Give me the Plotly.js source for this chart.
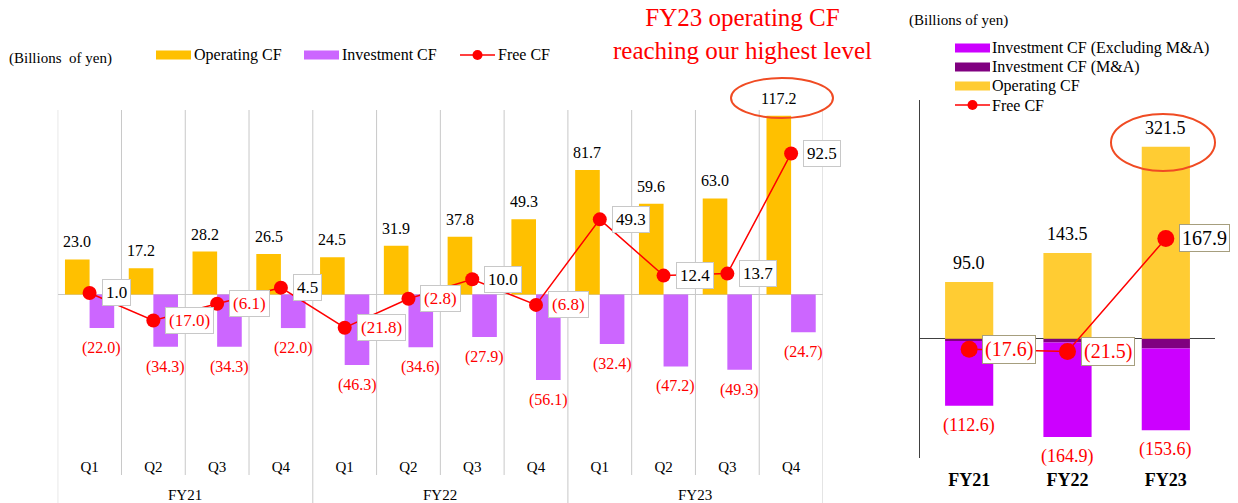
<!DOCTYPE html>
<html>
<head>
<meta charset="utf-8">
<script src="https://cdn.plot.ly/plotly-3.0.1.min.js"></script>
<style>
  html, body { margin: 0; padding: 0; background: #ffffff; }
  #chart { width: 1238px; height: 503px; }
</style>
</head>
<body>
<div id="chart"></div>
<script>
// ---------- Data (billions of yen) ----------
const quarters = ['Q1', 'Q2', 'Q3', 'Q4', 'Q1', 'Q2', 'Q3', 'Q4', 'Q1', 'Q2', 'Q3', 'Q4'];
const fiscalYears = ['FY21', 'FY22', 'FY23'];
const operatingCF = [23.0, 17.2, 28.2, 26.5, 24.5, 31.9, 37.8, 49.3, 81.7, 59.6, 63.0, 117.2];
const investmentCF = [-22.0, -34.3, -34.3, -22.0, -46.3, -34.6, -27.9, -56.1, -32.4, -47.2, -49.3, -24.7];
const freeCF = [1.0, -17.0, -6.1, 4.5, -21.8, -2.8, 10.0, -6.8, 49.3, 12.4, 13.7, 92.5];

const annualYears = ['FY21', 'FY22', 'FY23'];
const annualOperatingCF = [95.0, 143.5, 321.5];
const annualInvestmentTotal = [-112.6, -164.9, -153.6];
const annualInvestmentMA = [-4.0, -6.5, -16.5];
const annualFreeCF = [-17.6, -21.5, 167.9];

const leftLegendNames = ['Operating CF', 'Investment CF', 'Free CF'];
const rightLegendNames = ['Investment CF (Excluding M&A)', 'Investment CF (M&A)', 'Operating CF', 'Free CF'];

// ---------- Helpers ----------
const W = 1238, H = 503;
const px = v => v / W;           // pixel x -> paper
const py = v => 1 - v / H;       // pixel y -> paper
const fmt = v => v < 0 ? '(' + Math.abs(v).toFixed(1) + ')' : v.toFixed(1);
const FONT = 'Liberation Serif, Times New Roman, serif';

const C_OP_Q = '#FFC000', C_INV_Q = '#CC66FF';
const C_EXCL = '#CC00FF', C_MA = '#800080', C_OP_Y = '#FFCC33', C_FREE = '#FF0000';

const qIdx = quarters.map((_, i) => i);
const annualExcl = annualInvestmentTotal.map((t, i) => +(t - annualInvestmentMA[i]).toFixed(1));

const BAR_W = 0.386;

const traces = [
  // ----- Left panel (quarterly) -----
  {
    type: 'bar', name: leftLegendNames[0], x: qIdx, y: operatingCF,
    xaxis: 'x', yaxis: 'y', showlegend: false,
    width: BAR_W, offset: -BAR_W, marker: { color: C_OP_Q }
  },
  {
    type: 'bar', name: leftLegendNames[1], x: qIdx, y: investmentCF,
    xaxis: 'x', yaxis: 'y', showlegend: false,
    width: BAR_W, offset: 0, marker: { color: C_INV_Q }
  },
  {
    type: 'scatter', mode: 'lines+markers', name: leftLegendNames[2], x: qIdx, y: freeCF,
    xaxis: 'x', yaxis: 'y', showlegend: false,
    line: { color: C_FREE, width: 1.5 },
    marker: { color: C_FREE, size: 14 }, cliponaxis: false
  },
  // ----- Right panel (annual) -----
  {
    type: 'bar', name: rightLegendNames[1], x: annualYears, y: annualInvestmentMA,
    xaxis: 'x2', yaxis: 'y2', showlegend: false,
    width: 0.49, marker: { color: C_MA }
  },
  {
    type: 'bar', name: rightLegendNames[0], x: annualYears, y: annualExcl,
    xaxis: 'x2', yaxis: 'y2', showlegend: false,
    width: 0.49, marker: { color: C_EXCL }
  },
  {
    type: 'bar', name: rightLegendNames[2], x: annualYears, y: annualOperatingCF,
    xaxis: 'x2', yaxis: 'y2', showlegend: false,
    width: 0.49, marker: { color: C_OP_Y }
  },
  {
    type: 'scatter', mode: 'lines+markers', name: rightLegendNames[3], x: annualYears, y: annualFreeCF,
    xaxis: 'x2', yaxis: 'y2', showlegend: false,
    line: { color: C_FREE, width: 1.5 },
    marker: { color: C_FREE, size: 17 }, cliponaxis: false
  }
];

// ---------- Shapes ----------
const shapes = [];
for (let i = 0; i <= quarters.length; i++) {
  const isYearEdge = i % 4 === 0;
  shapes.push({
    type: 'line', xref: 'x', yref: 'paper',
    x0: i - 0.5, x1: i - 0.5,
    y0: isYearEdge ? 0 : py(475), y1: py(110),
    line: { color: '#C8C8C8', width: 1 }, layer: 'below'
  });
}
// Highlight ellipses
shapes.push({
  type: 'circle', xref: 'paper', yref: 'paper',
  x0: px(731), x1: px(833), y0: py(118), y1: py(78),
  line: { color: '#F04B23', width: 2 }
});
shapes.push({
  type: 'circle', xref: 'paper', yref: 'paper',
  x0: px(1111), x1: px(1215), y0: py(171), y1: py(114),
  line: { color: '#F04B23', width: 2 }
});

// ---------- Legends (drawn as shapes + text) ----------
const annotations = [];
function legendSwatch(x0, cy, color) {
  shapes.push({
    type: 'rect', xref: 'paper', yref: 'paper',
    x0: px(x0), x1: px(x0 + 35), y0: py(cy + 4.5), y1: py(cy - 4.5),
    fillcolor: color, line: { width: 0 }
  });
}
function legendLine(x0, cy) {
  shapes.push({
    type: 'line', xref: 'paper', yref: 'paper',
    x0: px(x0), x1: px(x0 + 35), y0: py(cy), y1: py(cy),
    line: { color: C_FREE, width: 1.5 }
  });
  shapes.push({
    type: 'circle', xref: 'paper', yref: 'paper',
    x0: px(x0 + 17.5 - 5), x1: px(x0 + 17.5 + 5), y0: py(cy + 5), y1: py(cy - 5),
    fillcolor: C_FREE, line: { color: C_FREE, width: 0 }
  });
}
function legendText(x, cy, text) {
  annotations.push({
    xref: 'paper', yref: 'paper', x: px(x), y: py(cy), text: text, showarrow: false,
    xanchor: 'left', yanchor: 'middle',
    font: { family: FONT, size: 16, color: '#000000' }
  });
}
// Left legend
const LCY = 55;
legendSwatch(156, LCY, C_OP_Q);  legendText(192, LCY, leftLegendNames[0]);
legendSwatch(304, LCY, C_INV_Q); legendText(340, LCY, leftLegendNames[1]);
legendLine(460, LCY);            legendText(496, LCY, leftLegendNames[2]);
// Right legend
const rowsY = [48, 67, 86, 105];
legendSwatch(955, rowsY[0], C_EXCL); legendText(990, rowsY[0], rightLegendNames[0]);
legendSwatch(955, rowsY[1], C_MA);   legendText(990, rowsY[1], rightLegendNames[1]);
legendSwatch(955, rowsY[2], C_OP_Y); legendText(990, rowsY[2], rightLegendNames[2]);
legendLine(955, rowsY[3]);           legendText(990, rowsY[3], rightLegendNames[3]);

// ---------- Value labels ----------
operatingCF.forEach((v, i) => {
  annotations.push({
    xref: 'x', yref: 'y', x: i - BAR_W / 2, y: v, text: fmt(v), showarrow: false,
    xanchor: 'center', yanchor: 'bottom', yshift: 7,
    font: { family: FONT, size: 16, color: '#000000' }
  });
});
investmentCF.forEach((v, i) => {
  annotations.push({
    xref: 'x', yref: 'y', x: i + BAR_W / 2, y: v, text: fmt(v), showarrow: false,
    xanchor: 'center', yanchor: 'top', yshift: -9,
    font: { family: FONT, size: 16, color: '#FF0000' }
  });
});
annualOperatingCF.forEach((v, i) => {
  annotations.push({
    xref: 'x2', yref: 'y2', x: annualYears[i], y: v, text: fmt(v), showarrow: false,
    xanchor: 'center', yanchor: 'bottom', yshift: 7,
    font: { family: FONT, size: 18, color: '#000000' }
  });
});
annualInvestmentTotal.forEach((v, i) => {
  annotations.push({
    xref: 'x2', yref: 'y2', x: annualYears[i], y: v, text: fmt(v), showarrow: false,
    xanchor: 'center', yanchor: 'top', yshift: -7,
    font: { family: FONT, size: 18, color: '#FF0000' }
  });
});
// Free CF value boxes (left)
freeCF.forEach((v, i) => {
  annotations.push({
    xref: 'x', yref: 'y', x: i, y: v, text: fmt(v), showarrow: false,
    xanchor: 'left', yanchor: 'middle', xshift: 12,
    font: { family: FONT, size: 17, color: v < 0 ? '#FF0000' : '#000000' },
    bgcolor: '#FFFFFF', bordercolor: '#C8C8C8', borderwidth: 1, borderpad: 3
  });
});
// Free CF value boxes (right)
annualFreeCF.forEach((v, i) => {
  annotations.push({
    xref: 'x2', yref: 'y2', x: annualYears[i], y: v, text: fmt(v), showarrow: false,
    xanchor: 'left', yanchor: 'middle', xshift: 13,
    font: { family: FONT, size: 20, color: v < 0 ? '#FF0000' : '#000000' },
    bgcolor: '#FFFFFF', bordercolor: '#A69E7E', borderwidth: 1, borderpad: 2
  });
});
// Fiscal year group labels (left)
fiscalYears.forEach((fy, g) => {
  annotations.push({
    xref: 'x', yref: 'paper', x: g * 4 + 1.5, y: py(495), text: fy, showarrow: false,
    xanchor: 'center', yanchor: 'middle',
    font: { family: FONT, size: 15, color: '#000000' }
  });
});
// Units
annotations.push({
  xref: 'paper', yref: 'paper', x: px(7), y: py(58), text: '(Billions  of yen)',
  showarrow: false, xanchor: 'left', yanchor: 'middle',
  font: { family: FONT, size: 15, color: '#000000' }
});
annotations.push({
  xref: 'paper', yref: 'paper', x: px(907), y: py(21), text: '(Billions of yen)',
  showarrow: false, xanchor: 'left', yanchor: 'middle',
  font: { family: FONT, size: 15, color: '#000000' }
});
// Headline
annotations.push({
  xref: 'paper', yref: 'paper', x: px(742), y: py(34),
  text: 'FY23 operating CF<br>reaching our highest level',
  showarrow: false, xanchor: 'center', yanchor: 'middle', align: 'center',
  font: { family: FONT, size: 25, color: '#FF0000' }
});

const layout = {
  width: W, height: H,
  margin: { l: 0, r: 0, t: 0, b: 0 },
  paper_bgcolor: '#FFFFFF', plot_bgcolor: 'rgba(0,0,0,0)',
  barmode: 'relative',
  hovermode: false,
  showlegend: false,
  font: { family: FONT, size: 15, color: '#000000' },
  xaxis: {
    domain: [px(57.7), px(823)], range: [-0.5, 11.5],
    tickvals: qIdx, ticktext: quarters, ticks: '',
    showgrid: false, zeroline: false, showline: false,
    tickfont: { family: FONT, size: 15, color: '#000000' },
    ticklabelstandoff: 9, fixedrange: true
  },
  yaxis: {
    domain: [py(447), py(110)], range: [-100, 121],
    showticklabels: false, showgrid: false, ticks: '',
    zeroline: true, zerolinecolor: '#C8C8C8', zerolinewidth: 1,
    showline: false, fixedrange: true
  },
  xaxis2: {
    domain: [px(920), px(1215)], range: [-0.5, 2.5], anchor: 'y2',
    type: 'category', ticks: '',
    showgrid: false, zeroline: false, showline: false,
    tickfont: { family: FONT, size: 18, color: '#000000', weight: 700 },
    ticklabelstandoff: 9, fixedrange: true
  },
  yaxis2: {
    domain: [py(458), py(100)], range: [-200, 400], anchor: 'x2',
    showticklabels: false, showgrid: false, ticks: '',
    zeroline: true, zerolinecolor: '#404040', zerolinewidth: 1,
    showline: true, linecolor: '#404040', linewidth: 1, fixedrange: true
  },
  shapes: shapes,
  annotations: annotations
};

Plotly.newPlot('chart', traces, layout, { displayModeBar: false, staticPlot: true });
</script>
</body>
</html>
